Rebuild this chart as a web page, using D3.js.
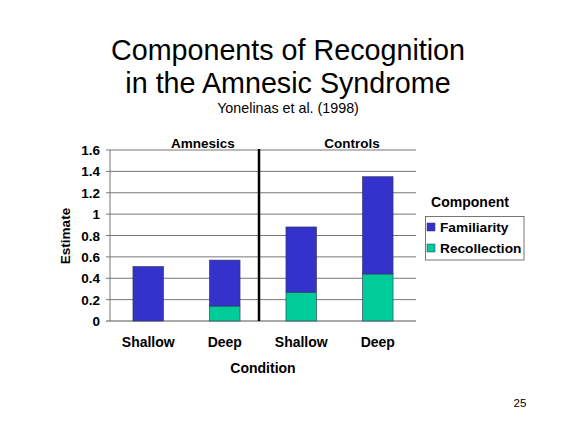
<!DOCTYPE html>
<html><head><meta charset="utf-8">
<script src="https://cdn.jsdelivr.net/npm/d3@7/dist/d3.min.js"></script>
<style>body{margin:0;background:#fff}svg{display:block}text{font-family:Arial,"Liberation Sans",sans-serif}</style>
</head><body>
<script>
const categories = ["Shallow","Deep","Shallow","Deep"];
const groups = ["Amnesics","Controls"];
const recollection = [0, 0.14, 0.27, 0.44];
const familiarity = [0.51, 0.43, 0.61, 0.91];
const seriesNames = ["Familiarity","Recollection"];
const yTicks = [0,0.2,0.4,0.6,0.8,1,1.2,1.4,1.6];
const colors = {Familiarity:"#3333CC", Recollection:"#00CC99"};

const W=576,H=432;
const svg=d3.select("body").append("svg").attr("width",W).attr("height",H);
const m={l:110,r:416,t:150,b:321};
const x=d3.scaleBand().domain(d3.range(categories.length)).range([m.l,m.r]).paddingInner(0.6).paddingOuter(0.3);
const y=d3.scaleLinear().domain([0,1.6]).range([m.b,m.t]);
const fs=13.5;

// gridlines
svg.append("g").selectAll("line").data(yTicks).join("line")
 .attr("x1",m.l-4).attr("x2",m.r).attr("y1",d=>y(d)).attr("y2",d=>y(d))
 .attr("stroke",d=>d===0?"#555":"#777").attr("stroke-width",1);
// y axis line
svg.append("line").attr("x1",m.l).attr("x2",m.l).attr("y1",y(1.6)).attr("y2",y(0)).attr("stroke","#777");
// y tick labels
svg.append("g").selectAll("text").data(yTicks).join("text")
 .attr("x",m.l-10).attr("y",d=>y(d)+5).attr("text-anchor","end")
 .attr("font-size",fs).attr("font-weight","bold").text(d=>d);

// stacked bars
const data=categories.map((c,i)=>({i,Recollection:recollection[i],Familiarity:familiarity[i]}));
const stack=d3.stack().keys(["Recollection","Familiarity"])(data);
svg.append("g").selectAll("g").data(stack).join("g").attr("fill",s=>colors[s.key])
 .selectAll("rect").data(s=>s.filter(d=>d[1]-d[0]>0)).join("rect")
 .attr("x",d=>x(d.data.i)).attr("width",x.bandwidth())
 .attr("y",d=>y(d[1])).attr("height",d=>y(d[0])-y(d[1]))
 .attr("stroke","#335").attr("stroke-width",0.6);

// category labels
svg.append("g").selectAll("text").data(categories).join("text")
 .attr("x",(d,i)=>x(i)+x.bandwidth()/2).attr("y",347).attr("text-anchor","middle")
 .attr("font-size",14).attr("font-weight","bold").text(d=>d);

// divider
svg.append("line").attr("x1",259).attr("x2",259).attr("y1",149).attr("y2",y(0)).attr("stroke","#000").attr("stroke-width",2.5);
// group labels
svg.append("text").attr("x",203).attr("y",148).attr("text-anchor","middle").attr("font-size",fs).attr("font-weight","bold").text(groups[0]);
svg.append("text").attr("x",352).attr("y",148).attr("text-anchor","middle").attr("font-size",fs).attr("font-weight","bold").text(groups[1]);

// axis titles
svg.append("text").attr("x",263).attr("y",373).attr("text-anchor","middle").attr("font-size",14).attr("font-weight","bold").text("Condition");
svg.append("text").attr("transform","translate(70,236) rotate(-90)").attr("text-anchor","middle").attr("font-size",fs).attr("font-weight","bold").text("Estimate");

// title
svg.append("text").attr("x",288).attr("y",59.5).attr("text-anchor","middle").attr("font-size",28.7).text("Components of Recognition");
svg.append("text").attr("x",288).attr("y",92.5).attr("text-anchor","middle").attr("font-size",28.7).text("in the Amnesic Syndrome");
svg.append("text").attr("x",288).attr("y",113).attr("text-anchor","middle").attr("font-size",14.3).text("Yonelinas et al. (1998)");

// legend
svg.append("text").attr("x",470).attr("y",207).attr("text-anchor","middle").attr("font-size",14).attr("font-weight","bold").text("Component");
svg.append("rect").attr("x",425.5).attr("y",216.5).attr("width",98.5).attr("height",43.5).attr("fill","#fff").attr("stroke","#555").attr("stroke-width",0.8);
const lg=svg.append("g").selectAll("g").data(seriesNames).join("g").attr("transform",(d,i)=>`translate(427,${223+i*21})`);
lg.append("rect").attr("width",8).attr("height",8).attr("fill",d=>colors[d]).attr("stroke","#335").attr("stroke-width",0.5);
lg.append("text").attr("x",13).attr("y",8.5).attr("font-size",13.7).attr("font-weight","bold").text(d=>d);

// page number
svg.append("text").attr("x",520).attr("y",407).attr("text-anchor","middle").attr("font-size",11.5).text("25");
</script>
</body></html>
